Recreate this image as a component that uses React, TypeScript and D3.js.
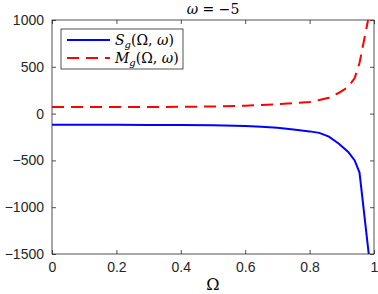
import React, { useEffect, useRef } from 'react';
import * as d3 from 'd3';

// Ω sample points and the two series
const omega = [0, 0.1, 0.2, 0.3, 0.4, 0.5, 0.6, 0.65, 0.7, 0.75, 0.8, 0.83, 0.86, 0.89, 0.92, 0.94, 0.955, 0.985];
const sg = [-120, -120, -120, -121, -122, -125, -133, -140, -152, -170, -190, -206, -246, -320, -410, -500, -630, -1540];
const mg = [70, 70, 70, 71, 72, 76, 85, 92, 100, 112, 125, 145, 170, 220, 285, 380, 540, 1060];

const xTicks = [0, 0.2, 0.4, 0.6, 0.8, 1];
const yTicks = [-1500, -1000, -500, 0, 500, 1000];

const W = 378;
const H = 294;
const m = { left: 52, right: 4, top: 20, bottom: 40 };

const App = () => {
  const ref = useRef<SVGSVGElement>(null);

  useEffect(() => {
    const svg = d3.select(ref.current);
    svg.selectAll('*').remove();

    const x = d3.scaleLinear().domain([0, 1]).range([m.left, W - m.right]);
    const y = d3.scaleLinear().domain([-1500, 1000]).range([H - m.bottom, m.top]);

    svg
      .append('defs')
      .append('clipPath')
      .attr('id', 'plotclip')
      .append('rect')
      .attr('x', m.left)
      .attr('y', m.top)
      .attr('width', W - m.left - m.right)
      .attr('height', H - m.top - m.bottom);

    const axisColor = '#262626';
    const font = 'Liberation Sans, Arial, sans-serif';

    // box
    svg
      .append('rect')
      .attr('x', m.left)
      .attr('y', m.top)
      .attr('width', W - m.left - m.right)
      .attr('height', H - m.top - m.bottom)
      .attr('fill', 'white')
      .attr('stroke', axisColor)
      .attr('stroke-width', 0.8);

    const styleAxis = (g: any) => {
      g.select('.domain').remove();
      g.selectAll('line').attr('stroke', axisColor).attr('stroke-width', 0.8);
      g.selectAll('text').attr('fill', '#262626').attr('font-family', font).attr('font-size', 14);
    };

    svg
      .append('g')
      .attr('transform', `translate(0,${H - m.bottom})`)
      .call(d3.axisBottom(x).tickValues(xTicks).tickFormat(d3.format('')).tickSizeInner(-4).tickPadding(8))
      .call(styleAxis);
    svg
      .append('g')
      .attr('transform', `translate(0,${m.top})`)
      .call(d3.axisTop(x).tickValues(xTicks).tickFormat(() => '').tickSizeInner(-4))
      .call(styleAxis);
    svg
      .append('g')
      .attr('transform', `translate(${m.left},0)`)
      .call(d3.axisLeft(y).tickValues(yTicks).tickFormat(d3.format('')).tickSizeInner(-4).tickPadding(8))
      .call(styleAxis);
    svg
      .append('g')
      .attr('transform', `translate(${W - m.right},0)`)
      .call(d3.axisRight(y).tickValues(yTicks).tickFormat(() => '').tickSizeInner(-4))
      .call(styleAxis);

    const line = (vals: number[]) =>
      d3
        .line<number>()
        .x((_, i) => x(omega[i]))
        .y((d) => y(d))(vals);

    const plot = svg.append('g').attr('clip-path', 'url(#plotclip)');
    plot
      .append('path')
      .attr('d', line(sg))
      .attr('fill', 'none')
      .attr('stroke', '#0000ff')
      .attr('stroke-width', 2);
    plot
      .append('path')
      .attr('d', line(mg))
      .attr('fill', 'none')
      .attr('stroke', '#ff0000')
      .attr('stroke-width', 2)
      .attr('stroke-dasharray', '12,7');

    // legend
    const lg = svg.append('g');
    lg.append('rect')
      .attr('x', 61)
      .attr('y', 29)
      .attr('width', 122)
      .attr('height', 40)
      .attr('fill', 'white')
      .attr('stroke', axisColor)
      .attr('stroke-width', 0.8);
    const items = [
      { color: '#0000ff', dash: null, name: 'S', y: 40 },
      { color: '#ff0000', dash: '12,7', name: 'M', y: 58 },
    ];
    items.forEach((it) => {
      lg.append('line')
        .attr('x1', 67)
        .attr('x2', 110)
        .attr('y1', it.y)
        .attr('y2', it.y)
        .attr('stroke', it.color)
        .attr('stroke-width', 2)
        .attr('stroke-dasharray', it.dash);
      const t = lg
        .append('text')
        .attr('x', 115)
        .attr('y', it.y + 5)
        .attr('font-family', 'DejaVu Serif, serif')
        .attr('font-size', 14)
        .attr('fill', '#000');
      t.append('tspan').attr('font-style', 'italic').text(it.name);
      t.append('tspan').attr('font-style', 'italic').attr('font-size', 10).attr('dy', 3).text('g');
      t.append('tspan').attr('dy', -3).text('(Ω, ');
      t.append('tspan').attr('font-style', 'italic').text('ω');
      t.append('tspan').text(')');
    });

    // title
    const title = svg
      .append('text')
      .attr('x', (m.left + W - m.right) / 2)
      .attr('y', 14)
      .attr('text-anchor', 'middle')
      .attr('font-family', 'DejaVu Serif, serif')
      .attr('font-size', 14)
      .attr('fill', '#000');
    title.append('tspan').attr('font-style', 'italic').text('ω');
    title.append('tspan').text(' = −5');

    // x label
    svg
      .append('text')
      .attr('x', (m.left + W - m.right) / 2)
      .attr('y', 290)
      .attr('text-anchor', 'middle')
      .attr('font-family', 'DejaVu Serif, serif')
      .attr('font-size', 16)
      .attr('fill', '#000')
      .text('Ω');
  }, []);

  return (
    <svg
      ref={ref}
      width={W}
      height={H}
      style={{ position: 'absolute', left: 0, top: 0, background: 'white' }}
    ></svg>
  );
};

export default App;
